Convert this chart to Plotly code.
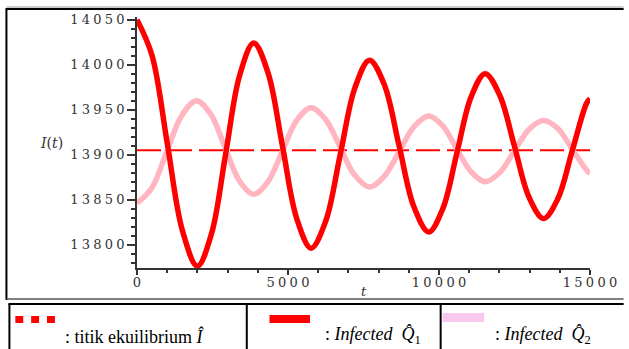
import plotly.graph_objects as go

# Time samples and solution values of the infected compartment I(t)
t_q1 = [0, 500, 1000, 1500, 2000, 2466, 2932, 3398, 3864, 4339, 4814, 5289,
        5764, 6247, 6730, 7213, 7696, 8187, 8678, 9169, 9660, 10127, 10594,
        11061, 11528, 12011, 12494, 12977, 13460, 13935, 14410, 14885, 15000]
i_q1 = [14050, 14010, 13913, 13816, 13776, 13812, 13900, 13988, 14024, 13991,
        13910, 13829, 13796, 13826, 13900, 13974, 14005, 13978, 13910, 13842,
        13814, 13840, 13902, 13964, 13990, 13966, 13910, 13853, 13829, 13851,
        13904, 13957, 13962]

t_q2 = [0, 491, 982, 1474, 1965, 2440, 2915, 3389, 3864, 4339, 4814, 5289,
        5764, 6247, 6730, 7213, 7696, 8187, 8678, 9169, 9660, 10127, 10594,
        11061, 11528, 12011, 12494, 12977, 13460, 13935, 14410, 14885, 15000]
i_q2 = [13846, 13863, 13903, 13943, 13960, 13945, 13908, 13871, 13856, 13870,
        13904, 13938, 13952, 13939, 13908, 13877, 13864, 13876, 13903, 13931,
        13943, 13932, 13906, 13881, 13870, 13880, 13904, 13928, 13938, 13929,
        13906, 13883, 13879]

# Equilibrium value
t_eq = [0, 15000]
i_eq = [13905, 13905]

y_ticks = [13800, 13850, 13900, 13950, 14000, 14050]
x_ticks = [0, 5000, 10000, 15000]

W, H = 629, 349
L, R, T, B = 137, 595, 17, 268  # plot area in pixels


def spaced(v):
    return "\u2005".join(str(v))


def px(x):
    return (x - L) / (R - L)


def py(y):
    return (B - y) / (B - T)


fig = go.Figure()
fig.add_trace(go.Scatter(x=t_eq, y=i_eq, mode="lines",
                         line=dict(color="#ff0000", width=2, dash="24px,7px")))
fig.add_trace(go.Scatter(x=t_q2, y=i_q2, mode="lines",
                         line=dict(color="#ffb6c1", width=5.5, shape="spline", smoothing=1)))
fig.add_trace(go.Scatter(x=t_q1, y=i_q1, mode="lines",
                         line=dict(color="#ff0000", width=5.5, shape="spline", smoothing=1)))

tick_font = dict(family="DejaVu Serif", size=13, color="#333333")

fig.update_layout(
    width=W, height=H,
    margin=dict(l=L, r=W - R, t=T, b=H - B),
    paper_bgcolor="white", plot_bgcolor="white",
    showlegend=False,
    xaxis=dict(range=[0, 15000], tickvals=x_ticks, ticktext=[spaced(v) for v in x_ticks],
               ticks="outside", ticklen=5, tickwidth=1.5, tickcolor="#333",
               ticklabelstandoff=-3,
               showline=True, linecolor="#333", linewidth=1.5,
               showgrid=False, zeroline=False, tickfont=tick_font,
               minor=dict(dtick=1000, ticks="outside", ticklen=3, tickcolor="#333")),
    yaxis=dict(range=[13774, 14053], tickvals=y_ticks, ticktext=[spaced(v) for v in y_ticks],
               ticks="outside", ticklen=8, tickwidth=1.5, tickcolor="#333",
               showline=True, linecolor="#333", linewidth=1.5,
               showgrid=False, zeroline=False, tickfont=tick_font,
               minor=dict(dtick=10, ticks="outside", ticklen=4, tickcolor="#333")),
)

ann = []
ann.append(dict(x=px(37), y=py(143), xref="paper", yref="paper", yanchor="middle",
                text="<i>I</i>(<i>t</i>)", showarrow=False,
                font=dict(family="DejaVu Serif", size=14, color="#333")))
ann.append(dict(x=px(367), y=py(291), xref="paper", yref="paper", yanchor="middle",
                text="<i>t</i>", showarrow=False,
                font=dict(family="DejaVu Serif", size=13, color="#333")))

leg_font = dict(family="Liberation Serif", size=18, color="black")
ann.append(dict(x=px(62), y=py(336), xref="paper", yref="paper", xanchor="left", yanchor="middle",
                text=": titik ekuilibrium <i>Î</i>", showarrow=False, font=leg_font))
ann.append(dict(x=px(325), y=py(335), xref="paper", yref="paper", xanchor="left", yanchor="middle",
                text=": <i>Infected</i>  <i>Q̂</i><sub>1</sub>", showarrow=False, font=leg_font))
ann.append(dict(x=px(497), y=py(335), xref="paper", yref="paper", xanchor="left", yanchor="middle",
                text=": <i>Infected</i>  <i>Q̂</i><sub>2</sub>", showarrow=False, font=leg_font))
fig.update_layout(annotations=ann)

shapes = []


def line(x0, y0, x1, y1, color="black", width=2):
    shapes.append(dict(type="line", xref="paper", yref="paper",
                       x0=px(x0), y0=py(y0), x1=px(x1), y1=py(y1),
                       line=dict(color=color, width=width)))


def box(x0, y0, x1, y1, color):
    shapes.append(dict(type="rect", xref="paper", yref="paper",
                       x0=px(x0), y0=py(y0), x1=px(x1), y1=py(y1),
                       line=dict(width=0), fillcolor=color))


# outer frame around the chart
line(5, 7, 629, 7, "#9a9a9a", 1)
line(5, 9, 629, 9)
line(5, 8, 5, 300)
line(5, 299, 629, 299, "#555", 1.5)
# legend table
line(7, 304, 629, 304)
line(8, 304, 8, 349)
line(248, 304, 248, 349)
line(444, 304, 444, 349)
# legend swatches
for x0 in (14, 30, 46):
    box(x0, 316, x0 + 8, 323, "#ff0000")
box(271, 315, 312, 323, "#ff0000")
box(446, 313, 488, 322, "#f9c8ef")

fig.update_layout(shapes=shapes)
fig.write_html("out.html")
